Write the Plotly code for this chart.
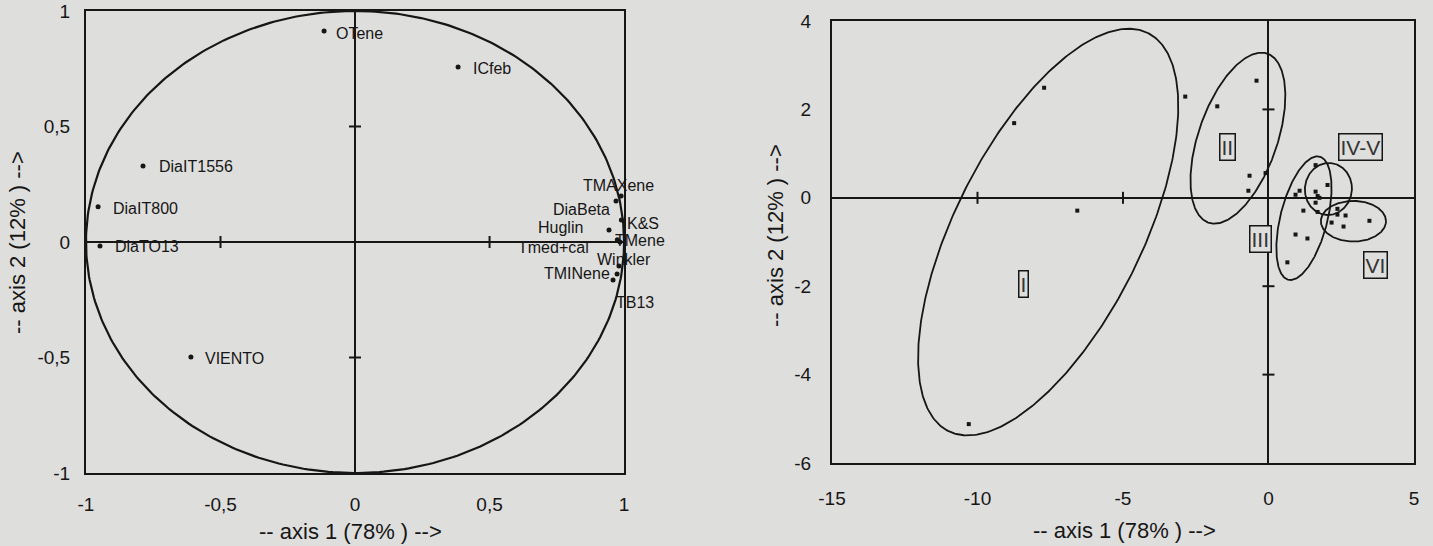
import numpy as np
import plotly.graph_objects as go

# ---- left panel: variables on the correlation circle ----
var_names = ["OTene", "ICfeb", "DiaIT1556", "DiaIT800", "DiaTO13", "VIENTO",
             "TMAXene", "DiaBeta", "Huglin", "K&S", "TMene", "Tmed+cal",
             "Winkler", "TMINene", "TB13"]
var_ax1 = [-0.115, 0.383, -0.788, -0.955, -0.948, -0.61,
           0.989, 0.970, 0.944, 0.99, 0.985, 0.975, 0.981, 0.974, 0.959]
var_ax2 = [0.913, 0.758, 0.329, 0.152, -0.017, -0.498,
           0.199, 0.177, 0.052, 0.095, 0.0, 0.01, -0.104, -0.139, -0.165]

# label placement next to each point (pixels, dy downwards)
lab_anchor = ["left", "left", "left", "left", "left", "left",
              "center", "right", "right", "left", "left", "right",
              "left", "right", "left"]
lab_dx = [10, 13, 14, 13, 13, 12, -3, -4, -24, 4, -7, -26, -24, -5, 1]
lab_dy = [2, 2, 1, 2, 1, 1, -11, 8, -2, 3, -1, 8, -7, -1, 22]

circ_ticks = [-1, -0.5, 0, 0.5, 1]
circ_ticktext = ["-1", "-0,5", "0", "0,5", "1"]

# ---- right panel: observations on the factorial plane ----
obs_ax1 = [-7.71, -8.74, -6.57, -10.3, -2.86, -1.76, -0.41, -0.65, -0.10, -0.69,
           1.62, 2.03, 1.07, 0.93, 1.62, 1.69, 1.75, 1.62, 1.20, 1.69,
           2.37, 2.37, 2.65, 2.17, 2.58, 3.47, 0.93, 1.34, 0.65]
obs_ax2 = [2.49, 1.69, -0.29, -5.12, 2.29, 2.07, 2.65, 0.50, 0.56, 0.16,
           0.74, 0.29, 0.16, 0.07, 0.14, 0.04, 0.0, -0.11, -0.29, -0.32,
           -0.25, -0.38, -0.40, -0.56, -0.65, -0.52, -0.83, -0.92, -1.46]

# groups: ellipse outline = centre + u*cos(t) + v*sin(t)
group_names = ["I", "II", "III", "IV-V", "VI"]
group_cx = [-7.57, -1.05, 1.22, 2.06, 2.92]
group_cy = [-0.775, 1.35, -0.46, 0.20, -0.53]
group_ux = [2.82, 0.705, 0.46, 0.80, 1.12]
group_uy = [4.60, 1.93, 1.40, 0.10, 0.0]
group_vx = [3.47, 1.47, 0.83, -0.12, 0.0]
group_vy = [-0.07, 0.135, 0.0, 0.58, 0.46]
group_lx = [-8.43, -1.41, -0.27, 3.16, 3.68]
group_ly = [-1.96, 1.15, -0.94, 1.15, -1.51]

obs_xticks = [-15, -10, -5, 0, 5]
obs_xticktext = ["-15", "-10", "-5", "0", "5"]
obs_yticks = [-6, -4, -2, 0, 2, 4]
obs_yticktext = ["-6", "-4", "-2", "0", "2", "4"]

INK = "#161616"
BG = "#dededc"
FONT = "Liberation Sans, Arial, sans-serif"

fig = go.Figure()

t = np.linspace(0, 2 * np.pi, 400)
fig.add_trace(go.Scatter(x=np.cos(t), y=np.sin(t), mode="lines",
                         line=dict(color=INK, width=2.2), xaxis="x", yaxis="y",
                         hoverinfo="skip"))
fig.add_trace(go.Scatter(x=var_ax1, y=var_ax2, mode="markers",
                         marker=dict(color=INK, size=5), xaxis="x", yaxis="y"))
for i, name in enumerate(var_names):
    fig.add_annotation(x=var_ax1[i], y=var_ax2[i], xref="x", yref="y", text=name,
                       showarrow=False, xanchor=lab_anchor[i], yanchor="middle",
                       xshift=lab_dx[i], yshift=-lab_dy[i],
                       font=dict(family=FONT, size=16, color=INK))

for i in range(len(group_names)):
    fig.add_trace(go.Scatter(
        x=group_cx[i] + group_ux[i] * np.cos(t) + group_vx[i] * np.sin(t),
        y=group_cy[i] + group_uy[i] * np.cos(t) + group_vy[i] * np.sin(t),
        mode="lines", line=dict(color=INK, width=1.8),
        xaxis="x2", yaxis="y2", hoverinfo="skip"))
    fig.add_annotation(x=group_lx[i], y=group_ly[i], xref="x2", yref="y2",
                       text=group_names[i], showarrow=False,
                       font=dict(family=FONT, size=21, color="#333333"),
                       bordercolor=INK, borderwidth=1.5, borderpad=1, bgcolor=BG)

fig.add_trace(go.Scatter(x=obs_ax1, y=obs_ax2, mode="markers",
                         marker=dict(color=INK, size=4, symbol="square"),
                         xaxis="x2", yaxis="y2"))

# inner ticks on the zero lines
for v in [-0.5, 0.5]:
    fig.add_shape(type="line", xref="x", yref="y", x0=v, x1=v, y0=-6, y1=6,
                  ysizemode="pixel", yanchor=0, line=dict(color=INK, width=2))
    fig.add_shape(type="line", xref="x", yref="y", y0=v, y1=v, x0=-6, x1=6,
                  xsizemode="pixel", xanchor=0, line=dict(color=INK, width=2))
for v in [-10, -5]:
    fig.add_shape(type="line", xref="x2", yref="y2", x0=v, x1=v, y0=-6, y1=6,
                  ysizemode="pixel", yanchor=0, line=dict(color=INK, width=2))
for v in [-4, -2, 2]:
    fig.add_shape(type="line", xref="x2", yref="y2", y0=v, y1=v, x0=-6, x1=6,
                  xsizemode="pixel", xanchor=0, line=dict(color=INK, width=2))

axis_common = dict(showgrid=False, zeroline=True, zerolinecolor=INK, zerolinewidth=2,
                   showline=True, linecolor=INK, linewidth=2, mirror=True,
                   automargin=False, ticks="",
                   tickfont=dict(family=FONT, size=19, color=INK))

fig.update_layout(
    width=1433, height=546, margin=dict(l=0, r=0, t=0, b=0),
    paper_bgcolor=BG, plot_bgcolor=BG, showlegend=False,
    xaxis=dict(domain=[0.0600, 0.4355], range=[-1, 1], tickvals=circ_ticks,
               ticktext=circ_ticktext, ticklabelstandoff=13, anchor="y", **axis_common),
    yaxis=dict(domain=[0.1337, 0.9799], range=[-1, 1], tickvals=circ_ticks,
               ticktext=circ_ticktext, ticklabelstandoff=10, anchor="x", **axis_common),
    xaxis2=dict(domain=[0.5806, 0.9867], range=[-15, 5], tickvals=obs_xticks,
                ticktext=obs_xticktext, ticklabelstandoff=17, anchor="y2", **axis_common),
    yaxis2=dict(domain=[0.1520, 0.9615], range=[-6, 4], tickvals=obs_yticks,
                ticktext=obs_yticktext, ticklabelstandoff=15, anchor="x2", **axis_common),
)

title_font = dict(family=FONT, size=22, color=INK)
titles = [(350, 531, "-- axis 1 (78% ) -->", 0),
          (18, 243, "-- axis 2 (12% ) -->", -90),
          (1124, 530, "-- axis 1 (78% ) -->", 0),
          (775, 236, "-- axis 2 (12% ) -->", -90)]
for px, py, txt, ang in titles:
    fig.add_annotation(x=px / 1433, y=1 - py / 546, xref="paper", yref="paper",
                       xanchor="center", yanchor="middle", text=txt,
                       textangle=ang, showarrow=False, font=title_font)

fig.write_html("out.html", config={"displayModeBar": False},
               post_script="document.body.style.margin='0';")
